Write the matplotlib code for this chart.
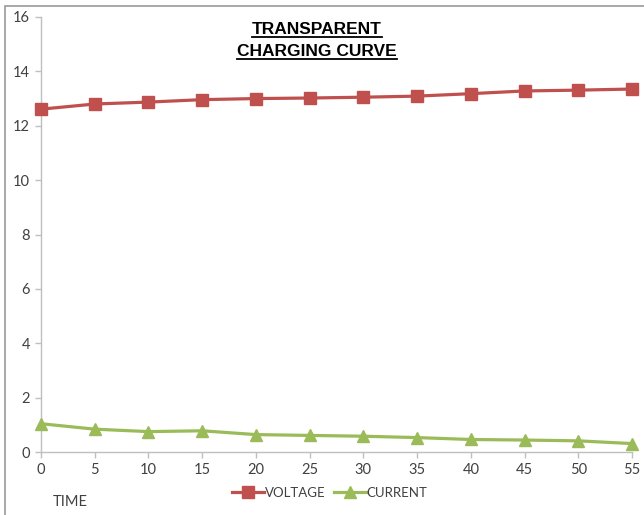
import matplotlib
matplotlib.use("Agg")
import matplotlib.pyplot as plt
from matplotlib.patches import Rectangle
from matplotlib.lines import Line2D
from matplotlib import font_manager

time = [0, 5, 10, 15, 20, 25, 30, 35, 40, 45, 50, 55]
voltage = [12.61, 12.80, 12.87, 12.96, 13.00, 13.02, 13.05, 13.09, 13.18, 13.28, 13.31, 13.35]
current = [1.04, 0.84, 0.75, 0.78, 0.64, 0.61, 0.58, 0.53, 0.46, 0.44, 0.41, 0.31]
y_ticks = [0, 2, 4, 6, 8, 10, 12, 14, 16]

available = {f.name for f in font_manager.fontManager.ttflist}
narrow = "Liberation Sans Narrow" if "Liberation Sans Narrow" in available else "Liberation Sans"
body = "Lato" if "Lato" in available else "DejaVu Sans"

RED = "#C0504D"
GREEN = "#9BBB59"
AXIS = "#BFBFBF"
TEXT = "#404040"

fig = plt.figure(figsize=(6.44, 5.15), dpi=100)
fig.patch.set_facecolor("white")

# chart frame, running off the right and bottom edges
fig.patches.append(Rectangle((5 / 644, -0.05), 1.2, 1 - 6 / 515 + 0.05,
                             transform=fig.transFigure, fill=False,
                             edgecolor="#9A9A9A", linewidth=1.2))

ax = fig.add_axes([41 / 644, 1 - 452 / 515, (632 - 41) / 644, (452 - 17) / 515])
ax.set_xlim(0, 55)
ax.set_ylim(0, 16)

ax.plot(time, voltage, color=RED, linewidth=2.3, marker="s", markersize=8.5,
        clip_on=False, zorder=3, label="VOLTAGE")
ax.plot(time, current, color=GREEN, linewidth=2.3, marker="^", markersize=9,
        clip_on=False, zorder=3, label="CURRENT")

for side in ("top", "right"):
    ax.spines[side].set_visible(False)
for side in ("left", "bottom"):
    ax.spines[side].set_color(AXIS)
    ax.spines[side].set_linewidth(1.0)

ax.set_xticks(time)
ax.set_yticks(y_ticks)
ax.tick_params(axis="both", colors=AXIS, labelcolor=TEXT, length=4, width=1.0,
               labelsize=10.5)
ax.tick_params(axis="y", pad=4)
ax.tick_params(axis="x", pad=4)
for lbl in ax.get_xticklabels() + ax.get_yticklabels():
    lbl.set_family(body)

fig.text(53 / 644, 1 - 502 / 515, "TIME", fontsize=10.5, color=TEXT,
         family=body, ha="left", va="center")

leg = fig.legend(loc="center", bbox_to_anchor=(330 / 644, 1 - 493 / 515),
                 ncol=2, frameon=False, fontsize=9.5, handlelength=2.4,
                 columnspacing=0.6, handletextpad=0.1, borderpad=0)
for t in leg.get_texts():
    t.set_family(body)
    t.set_color(TEXT)

# underlined two-line title
titles = []
for line, ypix in (("TRANSPARENT", 30), ("CHARGING CURVE", 52)):
    titles.append(fig.text(317 / 644, 1 - ypix / 515, line, fontsize=12.5,
                           fontweight="bold", family=narrow, color="black",
                           ha="center", va="center"))
fig.canvas.draw()
renderer = fig.canvas.get_renderer()
inv = fig.transFigure.inverted()
for t in titles:
    bb = t.get_window_extent(renderer)
    (x0, y0), (x1, y1) = inv.transform([[bb.x0, bb.y0], [bb.x1, bb.y1]])
    yu = y0 + 0.1 / 515
    fig.add_artist(Line2D([x0, x1], [yu, yu], transform=fig.transFigure,
                          color="black", linewidth=1.3))

fig.savefig("out.png", dpi=100, facecolor="white")
